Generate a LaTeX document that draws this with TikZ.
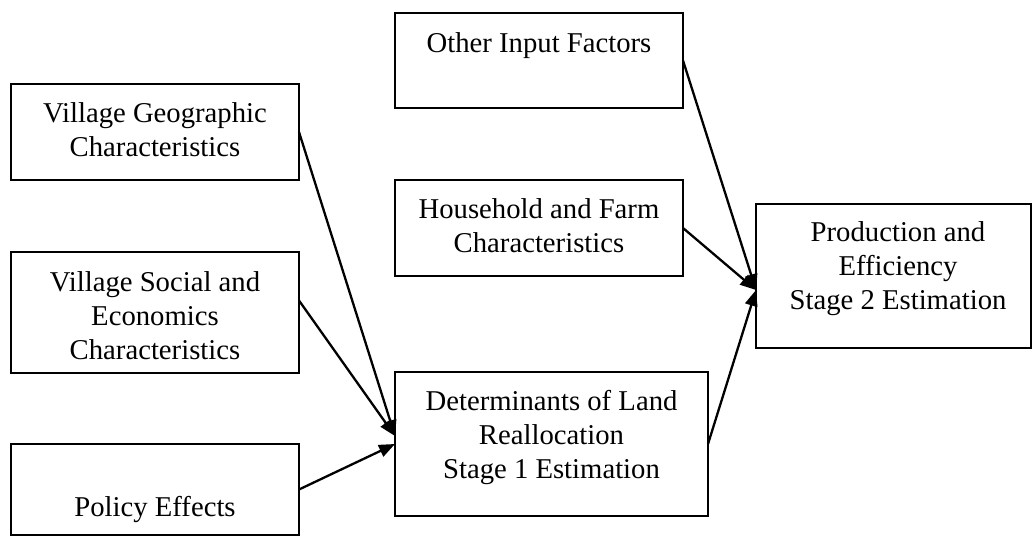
\documentclass[tikz,border=0pt]{standalone}
\usepackage{fontspec}
\setmainfont{Liberation Serif}
\usetikzlibrary{arrows.meta}
\begin{document}
\begin{tikzpicture}[x=1pt,y=-1pt,
  box/.style={draw=black,line width=1.3pt,inner sep=0pt,outer sep=0pt},
  txt/.style={align=center,inner sep=0pt,font=\fontsize{28.7pt}{34pt}\selectfont},
  arr/.style={line width=2.3pt,-{Triangle[length=16pt,width=12.5pt]}}]
\useasboundingbox (0,0) rectangle (1033,536);
% boxes
\node[box,minimum width=288pt,minimum height=96pt] (geo) at (155,132) {};
\node[box,minimum width=288pt,minimum height=121pt] (soc) at (155,312.5) {};
\node[box,minimum width=288pt,minimum height=91pt] (pol) at (155,489.5) {};
\node[box,minimum width=288pt,minimum height=95pt] (oth) at (539,60.5) {};
\node[box,minimum width=288pt,minimum height=96pt] (hh) at (539,228) {};
\node[box,minimum width=313pt,minimum height=144pt] (det) at (551.5,444) {};
\node[box,minimum width=275pt,minimum height=144pt] (prod) at (893.5,276) {};
% texts
\node[txt] (geoT) at (155,129.5) {Village Geographic\\Characteristics};
\node[txt] (socT) at (155,315.5) {Village Social and\\Economics\\Characteristics};
\node[txt,anchor=base] (polT) at (155,516.5) {Policy Effects};
\node[txt,anchor=base] (othT) at (539,52) {Other Input Factors};
\node[txt] (hhT) at (539,225.6) {Household and Farm\\Characteristics};
\node[txt] (detT) at (551.5,437) {Determinants of Land\\Reallocation\\Stage 1 Estimation};
\node[txt] (prodT) at (898,268.6) {Production and\\Efficiency\\Stage 2 Estimation};
% arrows
\draw[arr] (geo.east) -- ([yshift=8pt]det.west);
\draw[arr] ([yshift=12pt]soc.east) -- ([yshift=8pt]det.west);
\draw[arr] (pol.east) -- (det.west);
\draw[arr] (oth.east) -- ([yshift=-14pt]prod.west);
\draw[arr] (hh.east) -- ([yshift=-14pt]prod.west);
\draw[arr] (det.east) -- ([yshift=-14pt]prod.west);
\end{tikzpicture}
\end{document}
